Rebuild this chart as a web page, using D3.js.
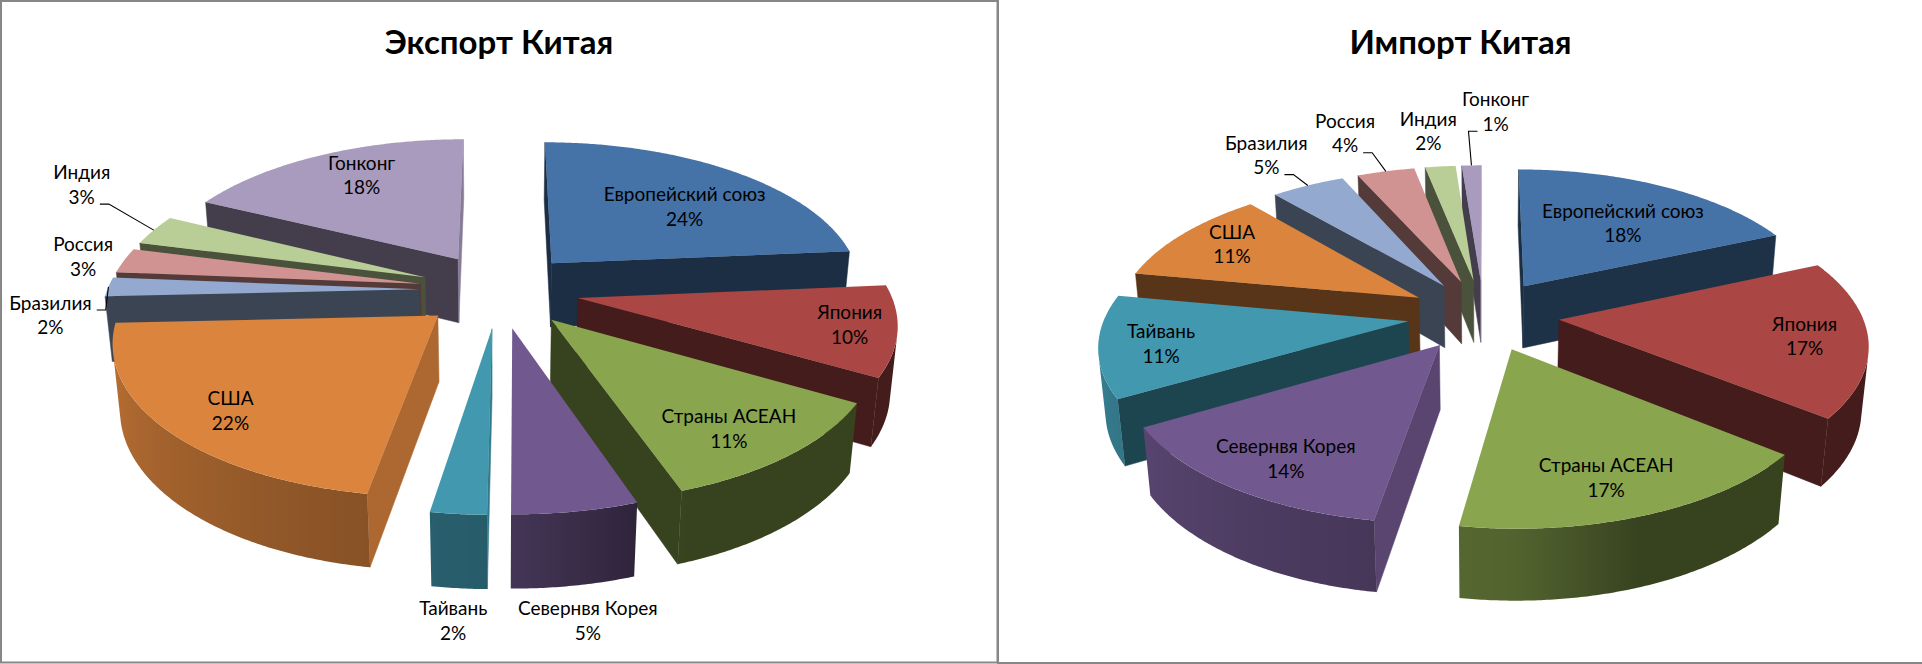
<!DOCTYPE html>
<html><head><meta charset="utf-8">
<script src="https://cdnjs.cloudflare.com/ajax/libs/d3/7.8.5/d3.min.js"></script>
<style>
body{margin:0;background:#fff}
svg{display:block}
text{font-family:"Lato","Open Sans",sans-serif;fill:#000}
</style>
</head><body>
<svg id="c" width="1922" height="664"></svg>
<script>
// ---------- data ----------
const categories = ["Европейский союз","Япония","Страны АСЕАН","Севернвя Корея","Тайвань","США","Бразилия","Россия","Индия","Гонконг"];
const exportValues = [23.6, 9.7, 11.45, 5.4, 2.4, 21.7, 2.05, 2.7, 3.3, 17.7];
const importValues = [18.4, 17.4, 16.7, 14.1, 11.3, 10.8, 4.6, 3.6, 1.9, 1.2];
const titles = ["Экспорт Китая", "Импорт Китая"];
const colors = ["#4572A7","#AA4643","#89A54E","#71588F","#4198AF","#DB843D","#93A9CF","#D19392","#B9CD96","#A99BBD"];

// ---------- layout (not data) ----------
const ELEV = 27.9*Math.PI/180, sA = Math.sin(ELEV), cA = Math.cos(ELEV);
const DIST = 6, DEPTH = 0.24;
const LABEL_SIZE = 19;
const layouts = [
  { cx: 499, cy: 290, S: 312, explode: 0.256, titleX: 499, titleY: 54,
    labels: [[0.643,47.8],[0.854,101.9],[0.80,142.85],[1.457,173.2],[1.447,183.5],[0.809,225.4],[1.159,261.4],[1.143,279.7],[1.446,299.7],[0.763,331.6]],
    leader: [0,0,0,0,0,0,1,0,1,0] },
  { cx: 1483.5, cy: 315, S: 303, explode: 0.25, titleX: 1460.5, titleY: 54,
    labels: [[0.625,36.5],[0.797,98.35],[0.7916,161.1],[0.8003,212.2],[0.802,258.9],[0.794,301.25],[1.35,327.5],[1.425,340.0],[1.3675,351.95],[1.566,2.2]],
    leader: [0,0,0,0,0,0,1,1,0,1] }
];

const svg = d3.select("#c");
const defs = svg.append("defs");
const shade = (c,b) => { const r = d3.rgb(c); return d3.rgb(r.r*b, r.g*b, r.b*b).formatHex(); };
const sideB = d3.scaleLinear().domain([0,90,160,180,200,240,270,300,360]).range([.4,.4,.4,.6,.65,.78,.9,.9,.4]).clamp(true);
const pctFmt = d3.format(".0%");
const pie = d3.pie().sort(null).value(d => d);
const line = d3.line();

// frames
svg.append("rect").attr("x",1).attr("y",1).attr("width",996.5).attr("height",661.5)
   .attr("fill","none").attr("stroke","#878787").attr("stroke-width",2);
svg.append("path").attr("d","M998,0V663H1922").attr("fill","none").attr("stroke","#878787").attr("stroke-width",2);

function drawChart(values, L, gi) {
  const g = svg.append("g");
  const scale = d3.scaleLinear().domain([0,1]).range([0,L.S]);
  const proj = (X,Y,Z) => { const w = Z*cA + Y*sA, f = DIST/(DIST - w);
    return [L.cx + scale(X)*f, L.cy - scale(Y*cA - Z*sA)*f]; };
  const total = d3.sum(values);
  const slices = pie(values).map((a,i) => {
    const m = (a.startAngle + a.endAngle)/2;
    return { i, a0: a.startAngle, a1: a.endAngle, m, v: a.data,
             ox: L.explode*Math.sin(m), oz: -L.explode*Math.cos(m), color: colors[i] };
  });
  const P = [0, DIST*sA, DIST*cA];
  const rim = (s, th, Y) => proj(s.ox + Math.sin(th), Y, s.oz - Math.cos(th));
  const steps = s => Math.max(2, Math.ceil((s.a1 - s.a0)/(Math.PI/360)));

  // sides, back to front
  slices.slice().sort((p,q) => p.oz - q.oz).forEach(s => {
    // radial walls
    [[s.a0,-1],[s.a1,1]].forEach(([a,sg]) => {
      const nx = sg*Math.cos(a), nz = sg*Math.sin(a);
      const face = (P[0]-s.ox)*nx + (P[2]-s.oz)*nz;
      if (face <= 0) return;
      const nAng = ((a*180/Math.PI + sg*90) % 360 + 360) % 360;
      const b = 0.4 + 0.4*Math.pow(Math.max(0, Math.sin(nAng*Math.PI/180)), 3);
      const pts = [proj(s.ox,0,s.oz), rim(s,a,0), rim(s,a,-DEPTH), proj(s.ox,-DEPTH,s.oz)];
      g.append("path").attr("d", line(pts)+"Z").attr("fill", shade(s.color,b))
       .attr("stroke", shade(s.color,b)).attr("stroke-width",0.5);
    });
    // outer side
    const N = steps(s), runs = []; let run = [];
    for (let k=0; k<=N; k++) {
      const th = s.a0 + (s.a1-s.a0)*k/N;
      const px = s.ox + Math.sin(th), pz = s.oz - Math.cos(th);
      const face = (P[0]-px)*Math.sin(th) + (P[2]-pz)*(-Math.cos(th));
      if (face > 0) run.push(th); else { if (run.length > 1) runs.push(run); run = []; }
    }
    if (run.length > 1) runs.push(run);
    runs.forEach((r,ri) => {
      const top = r.map(th => rim(s,th,0)), bot = r.map(th => rim(s,th,-DEPTH)).reverse();
      const xs = top.map(p => p[0]); const x0 = d3.min(xs), x1 = d3.max(xs);
      const id = `sg${gi}_${s.i}_${ri}`;
      const grad = defs.append("linearGradient").attr("id",id).attr("gradientUnits","userSpaceOnUse")
        .attr("x1",x0).attr("x2",x1 > x0 ? x1 : x0+1).attr("y1",0).attr("y2",0);
      const deg = th => ((th*180/Math.PI) % 360 + 360) % 360;
      r.map((th,k) => ({o: (xs[k]-x0)/((x1-x0)||1), c: shade(s.color, sideB(deg(th)))}))
       .sort((p,q) => p.o - q.o)
       .forEach(st => grad.append("stop").attr("offset", st.o).attr("stop-color", st.c));
      g.append("path").attr("d", line(top.concat(bot))+"Z").attr("fill", `url(#${id})`);
    });
  });

  // top faces
  slices.forEach(s => {
    const N = steps(s), pts = [proj(s.ox,0,s.oz)];
    for (let k=0; k<=N; k++) pts.push(rim(s, s.a0 + (s.a1-s.a0)*k/N, 0));
    g.append("path").attr("d", line(pts)+"Z").attr("fill", s.color);
  });

  // labels
  slices.forEach(s => {
    const [lr, la] = L.labels[s.i], th = la*Math.PI/180;
    const [lx, ly] = proj(s.ox + lr*Math.sin(th), 0, s.oz - lr*Math.cos(th));
    const t1 = g.append("text").attr("x",lx).attr("y",ly-5.75).attr("text-anchor","middle")
      .attr("font-size",LABEL_SIZE).text(categories[s.i]);
    const t2 = g.append("text").attr("x",lx).attr("y",ly+18.75).attr("text-anchor","middle")
      .attr("font-size",LABEL_SIZE).text(pctFmt(s.v/total));
    if (L.leader[s.i]) {
      const [rx, ry] = rim(s, s.m, 0);
      const useFirst = ry < ly;
      const t = useFirst ? t1 : t2, y = useFirst ? ly-5.25 : ly+19.25;
      const w = t.node().getComputedTextLength();
      let sx, ex;
      if (rx >= lx) { sx = lx + w/2 + 5; ex = sx + 9; } else { sx = lx - w/2 - 5; ex = sx - 9; }
      g.append("path").attr("d", `M${sx},${y}H${ex}L${rx},${ry}`)
       .attr("fill","none").attr("stroke","#000").attr("stroke-width",1.1);
    }
  });

  // title
  g.append("text").attr("x",L.titleX).attr("y",L.titleY).attr("text-anchor","middle")
   .attr("font-size",33).attr("font-weight","bold").text(titles[gi]);
}

drawChart(exportValues, layouts[0], 0);
drawChart(importValues, layouts[1], 1);
</script>
</body></html>
